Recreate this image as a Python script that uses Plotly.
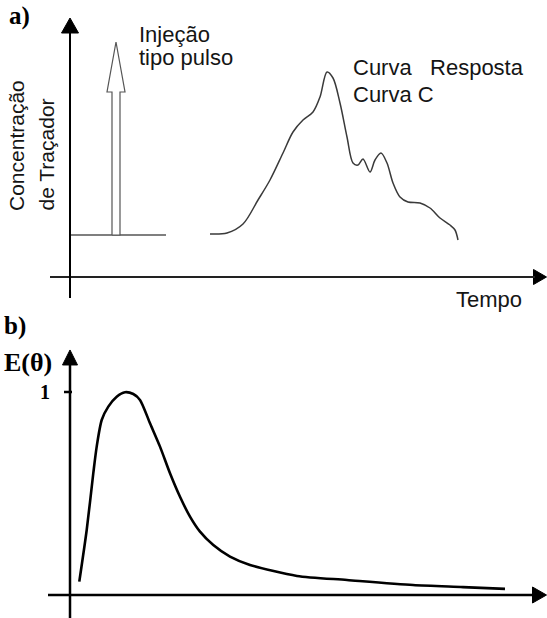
import plotly.graph_objects as go

# ---------------- Panel a) : pulse injection and response curve (C curve) ----------------
# time (arbitrary units) and tracer concentration (arbitrary units)
curve_c_time = [14.0, 15.7, 17.3, 18.8, 20.0, 21.3, 22.3, 23.3, 24.3, 25.0, 25.7, 26.3, 27.0,
                27.7, 28.3, 28.8, 29.3, 30.0, 30.5, 31.1, 31.7, 32.3, 33.0, 33.8, 35.0, 36.0,
                37.0, 38.0, 38.5, 38.8]
curve_c_conc = [4.3, 4.4, 5.3, 7.7, 9.7, 12.4, 14.5, 15.7, 16.5, 18.0, 20.5, 19.9, 17.4,
                14.0, 11.4, 11.2, 11.8, 10.5, 11.7, 12.4, 11.4, 9.4, 8.0, 7.5, 7.4, 6.9,
                5.9, 5.2, 4.7, 3.7]
baseline_time = [0.0, 9.6]
baseline_conc = [4.2, 4.2]
# hollow pulse arrow outline
pulse_time = [4.2, 4.2, 3.7, 4.6, 5.5, 5.0, 5.0, 4.2]
pulse_conc = [4.2, 18.5, 18.5, 23.5, 18.5, 18.5, 4.2, 4.2]

# ---------------- Panel b) : E(theta) curve ----------------
theta = [0.093, 0.167, 0.233, 0.267, 0.317, 0.383, 0.467, 0.550, 0.633, 0.700, 0.800,
         0.900, 1.000, 1.100, 1.200, 1.300, 1.433, 1.600, 1.800, 2.27, 2.77, 3.43,
         3.93, 4.35]
e_theta = [0.066, 0.320, 0.600, 0.731, 0.862, 0.928, 0.977, 0.999, 0.990, 0.961, 0.846,
           0.731, 0.600, 0.484, 0.386, 0.312, 0.246, 0.189, 0.148, 0.094, 0.074,
           0.049, 0.039, 0.030]
e_tick_values = [1]
e_tick_labels = ["1"]

# axis extents (schematic axes, drawn with arrows)
a_xrange = [-7.0, 47.7]
a_yrange = [-3.2, 27.7]
b_xrange = [-0.70, 4.77]
b_yrange = [-0.1133, 1.4089]

SANS = "Liberation Sans, Arial, sans-serif"
SERIF = "Liberation Serif, Times New Roman, serif"
TXT = "#151515"

fig = go.Figure()

# --- panel a traces
fig.add_trace(go.Scatter(x=baseline_time, y=baseline_conc, mode="lines",
                         line=dict(color="#555555", width=1.5), xaxis="x", yaxis="y",
                         hoverinfo="skip"))
fig.add_trace(go.Scatter(x=pulse_time, y=pulse_conc, mode="lines", fill="toself",
                         fillcolor="white", line=dict(color="#555555", width=1.2),
                         xaxis="x", yaxis="y", hoverinfo="skip"))
fig.add_trace(go.Scatter(x=curve_c_time, y=curve_c_conc, mode="lines",
                         line=dict(color="#3a3a3a", width=1.5, shape="spline", smoothing=0.9),
                         xaxis="x", yaxis="y", hoverinfo="skip"))

# --- panel b traces
fig.add_trace(go.Scatter(x=theta, y=e_theta, mode="lines",
                         line=dict(color="black", width=2.6, shape="spline", smoothing=0.7),
                         xaxis="x2", yaxis="y2", hoverinfo="skip"))

# --- axis lines (shapes)
shapes = [
    # panel a
    dict(type="line", xref="x", yref="y", x0=-2.0, x1=46.5, y0=0, y1=0,
         line=dict(color="#222222", width=1.8)),
    dict(type="line", xref="x", yref="y", x0=0, x1=0, y0=-2.1, y1=25.0,
         line=dict(color="black", width=2)),
    # panel b
    dict(type="line", xref="x2", yref="y2", x0=-0.22, x1=4.70, y0=0, y1=0,
         line=dict(color="black", width=2.5)),
    dict(type="line", xref="x2", yref="y2", x0=0, x1=0, y0=b_yrange[0], y1=1.16,
         line=dict(color="black", width=2.5)),
    dict(type="line", xref="x2", yref="y2", x0=-0.06, x1=0.02,
         y0=e_tick_values[0], y1=e_tick_values[0], line=dict(color="black", width=2.5)),
]


# --- arrow heads as filled triangles (sizes given in pixels, converted with axis scale)
def px_per_unit(rng, length_px):
    return length_px / (rng[1] - rng[0])


def arrow_head(tip_x, tip_y, direction, length_px, half_px, xa, ya, xrng, yrng, h_px):
    kx = px_per_unit(xrng, 547)
    ky = px_per_unit(yrng, h_px)
    if direction == "up":
        bx = [tip_x - half_px / kx, tip_x, tip_x + half_px / kx, tip_x - half_px / kx]
        by = [tip_y - length_px / ky, tip_y, tip_y - length_px / ky, tip_y - length_px / ky]
    else:
        bx = [tip_x - length_px / kx, tip_x, tip_x - length_px / kx, tip_x - length_px / kx]
        by = [tip_y - half_px / ky, tip_y, tip_y + half_px / ky, tip_y - half_px / ky]
    return go.Scatter(x=bx, y=by, mode="lines", fill="toself", fillcolor="black",
                      line=dict(color="black", width=1), xaxis=xa, yaxis=ya,
                      hoverinfo="skip", cliponaxis=False)


fig.add_trace(arrow_head(0, 25.9, "up", 15, 8.5, "x", "y", a_xrange, a_yrange, 309))
fig.add_trace(arrow_head(47.65, 0, "right", 13, 7.5, "x", "y", a_xrange, a_yrange, 309))
fig.add_trace(arrow_head(0, 1.207, "up", 15, 7.5, "x2", "y2", b_xrange, b_yrange, 309))
fig.add_trace(arrow_head(4.765, 0, "right", 14, 8, "x2", "y2", b_xrange, b_yrange, 309))


def ann(text, x, y, xref, yref, font, xanchor="left", yanchor="middle", angle=0):
    return dict(text=text, x=x, y=y, xref=xref, yref=yref, showarrow=False,
                xanchor=xanchor, yanchor=yanchor, textangle=angle, font=font)


f_sans = dict(family=SANS, size=22, color=TXT)
f_label = dict(family=SERIF, size=25, color="black")

annotations = [
    ann("<b>a)</b>", -6.3, 26.1, "x", "y", f_label),
    ann("Injeção", 6.7, 24.25, "x", "y", f_sans),
    ann("tipo pulso", 6.7, 21.95, "x", "y", f_sans),
    ann("Curva   Resposta", 28.1, 20.95, "x", "y", f_sans),
    ann("Curva C", 28.1, 18.25, "x", "y", f_sans),
    ann("Tempo", 38.4, -2.25, "x", "y", f_sans),
    ann("Concentração", -5.35, 6.4, "x", "y", dict(family=SANS, size=21, color=TXT),
        xanchor="center", yanchor="bottom", angle=-90),
    ann("de Traçador", -2.45, 6.4, "x", "y", dict(family=SANS, size=21, color=TXT),
        xanchor="center", yanchor="bottom", angle=-90),
    ann("<b>b)</b>", -0.68, 1.325, "x2", "y2", f_label),
    ann("<b>E(θ)</b>", -0.68, 1.143, "x2", "y2", dict(family=SERIF, size=26, color="black")),
    ann("<b>" + e_tick_labels[0] + "</b>", -0.185, e_tick_values[0], "x2", "y2",
        dict(family=SERIF, size=20, color="black"), xanchor="right"),
]

hidden = dict(visible=False, showgrid=False, zeroline=False, fixedrange=True)
fig.update_layout(
    width=547, height=618,
    margin=dict(l=0, r=0, t=0, b=0),
    paper_bgcolor="white", plot_bgcolor="white",
    showlegend=False,
    xaxis=dict(domain=[0, 1], range=a_xrange, anchor="y", **hidden),
    yaxis=dict(domain=[0.5, 1], range=a_yrange, anchor="x", **hidden),
    xaxis2=dict(domain=[0, 1], range=b_xrange, anchor="y2", **hidden),
    yaxis2=dict(domain=[0, 0.5], range=b_yrange, anchor="x2", **hidden),
    shapes=shapes,
    annotations=annotations,
)

fig.write_html("out.html", config={"displayModeBar": False},
               post_script="document.body.style.margin='0';"
                           "document.body.style.overflow='hidden';")
